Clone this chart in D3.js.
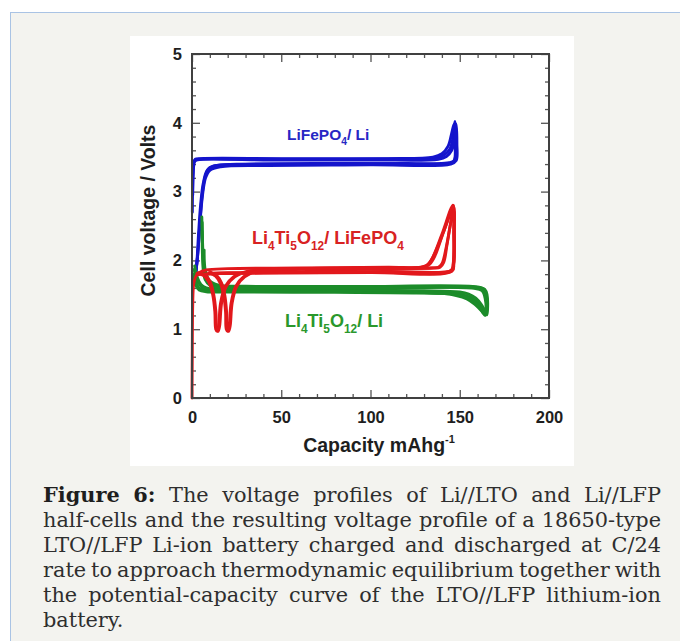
<!DOCTYPE html>
<html><head><meta charset="utf-8">
<script src="https://cdn.jsdelivr.net/npm/d3@7"></script>
<style>body{margin:0;background:#fff}</style>
</head><body>
<svg id="c" width="680" height="641"></svg>
<script>
// ---------- DATA ----------
const xMajorTicks = [0, 50, 100, 150, 200];
const xMinorTicks = [10,20,30,40,60,70,80,90,110,120,130,140,160,170,180,190];
const yMajorTicks = [0, 1, 2, 3, 4, 5];
const yMinorTicks = [0.2,0.4,0.6,0.8,1.2,1.4,1.6,1.8,2.2,2.4,2.6,2.8,3.2,3.4,3.6,3.8,4.2,4.4,4.6,4.8];

// LiFePO4 / Li half-cell cycles [capacity mAh/g, volts]
const lfpLiCycle1 = [[0.4,2.95],[0.9,3.36],[1.6,3.45],[4,3.47],[30,3.47],[80,3.47],[120,3.48],[136,3.49],[141,3.53],[144.5,3.62],[146.3,3.8],[147.3,4.02],[147.9,3.8],[147.6,3.5],[146,3.42],[120,3.41],[60,3.40],[20,3.39],[12,3.37],[8.5,3.31],[6.3,3.12],[4.8,2.8],[3.7,2.4],[2.8,2.0],[2,1.78]];
const lfpLiCycle2 = [[0.3,3.1],[0.8,3.41],[1.8,3.47],[5,3.48],[50,3.48],[110,3.48],[135,3.5],[140,3.55],[143.5,3.66],[145.5,3.85],[146.8,3.98],[147.4,3.7],[146.8,3.45],[144,3.42],[90,3.41],[30,3.40],[14,3.38],[9.5,3.34],[7.2,3.2],[5.5,2.9],[4.2,2.45],[3.1,2.05],[2.3,1.85]];
const lfpLiCycle3 = [[0.2,2.7],[0.6,3.25],[1.3,3.43],[3,3.46],[40,3.46],[100,3.46],[138,3.47],[142.5,3.51],[145.5,3.6],[147,3.75],[148,3.98],[148.4,3.7],[148,3.45],[145,3.40],[100,3.39],[40,3.38],[16,3.36],[10,3.31],[7.6,3.2],[5.9,2.95],[4.5,2.55],[3.4,2.15],[2.4,1.88],[1.6,1.72]];

// Li4Ti5O12 / Li half-cell cycles
const ltoLiCycle1 = [[1.2,1.87],[2.5,1.73],[4.6,1.64],[7,1.59],[10,1.57],[20,1.56],[60,1.55],[110,1.54],[140,1.52],[148,1.49],[154,1.44],[158.5,1.36],[162,1.27],[164.2,1.2],[164.9,1.3],[164.6,1.46],[163.3,1.56],[160,1.6],[120,1.6],[60,1.605],[25,1.61],[14,1.63],[9,1.7],[7,1.82],[6.2,2.0],[5.8,2.3],[5.5,2.63]];
const ltoLiCycle2 = [[1.0,1.8],[2.2,1.68],[4,1.6],[7,1.57],[12,1.56],[60,1.56],[120,1.55],[145,1.53],[152,1.5],[157,1.45],[160.5,1.37],[163,1.27],[164.6,1.22],[165.2,1.35],[164.8,1.5],[163.5,1.58],[159,1.61],[100,1.61],[40,1.615],[18,1.62],[11,1.66],[8,1.78],[6.6,1.95],[6,2.2],[5.7,2.55]];
const ltoLiCycle3 = [[1.5,1.92],[3,1.75],[5,1.65],[8,1.6],[14,1.58],[80,1.57],[130,1.56],[150,1.54],[155,1.51],[159,1.45],[162,1.36],[164,1.27],[165.2,1.21],[165.6,1.3],[165.3,1.5],[164,1.58],[160,1.615],[90,1.62],[30,1.625],[15,1.64],[10,1.7],[7.5,1.85],[6.8,2.15]];
const ltoLiCycle4 = [[0.8,1.75],[2,1.64],[4,1.57],[8,1.545],[20,1.54],[80,1.535],[130,1.525],[146,1.51],[153,1.47],[158,1.4],[161.5,1.3],[163.6,1.23],[164.4,1.26],[164.2,1.45],[162.5,1.56],[158,1.595],[100,1.6],[40,1.6],[16,1.61],[10,1.64],[7.4,1.72],[6.3,1.86],[5.9,2.05],[5.6,2.42]];

// Li4Ti5O12 / LiFePO4 full cell cycles
const ltoLfpCycle0 = [[0,0],[0.15,0.6],[0.4,1.35],[0.9,1.65],[2,1.76],[4,1.82],[8,1.86],[20,1.88],[60,1.89],[110,1.9],[129,1.9],[132,1.93],[135,2.05],[140,2.35],[146.3,2.8]];
const ltoLfpCycle1 = [[2.8,1.81],[6.5,1.78],[9.5,1.68],[11.6,1.5],[12.8,1.25],[13.3,1.0],[14.1,0.97],[14.9,1.05],[16,1.38],[18.6,1.62],[23.2,1.76],[30.7,1.84],[45,1.87],[90,1.89],[128,1.9],[131.5,1.93],[134,2.0],[140,2.38],[146.2,2.8],[146.6,2.4],[146.3,1.95],[145,1.85],[100,1.83],[40,1.82],[15,1.81],[6,1.8],[3,1.79]];
const ltoLfpCycle2 = [[3.5,1.82],[7.2,1.79],[10.2,1.69],[12.2,1.5],[13.4,1.25],[13.9,1.0],[14.7,0.97],[15.5,1.05],[16.6,1.38],[19.2,1.62],[24,1.76],[32,1.84],[50,1.875],[100,1.89],[130,1.9],[133,1.94],[136,2.06],[141,2.42],[146.5,2.78],[146.9,2.4],[146.6,1.95],[145.5,1.84],[100,1.825],[40,1.815],[15,1.81],[7,1.8],[3.5,1.8]];
const ltoLfpCycle3 = [[9.5,1.82],[13.2,1.77],[16,1.66],[17.8,1.48],[18.8,1.25],[19.2,1.0],[20,0.97],[20.8,1.05],[21.9,1.38],[24.4,1.62],[28.8,1.76],[36.3,1.84],[50,1.87],[100,1.88],[134,1.89],[138,1.9],[140,1.95],[142.5,2.2],[144.6,2.5],[146.4,2.76],[146.8,2.4],[146.5,1.95],[145.5,1.86],[110,1.84],[50,1.83],[20,1.82],[11,1.81]];
const ltoLfpCycle4 = [[10.3,1.83],[13.9,1.78],[16.6,1.67],[18.4,1.49],[19.4,1.25],[19.8,1.0],[20.6,0.97],[21.4,1.05],[22.5,1.38],[25,1.62],[29.5,1.76],[37,1.845],[55,1.875],[100,1.885],[135,1.89],[139,1.9],[141,1.97],[143,2.25],[145,2.55],[146.6,2.72],[147,2.4],[146.7,1.95],[145.8,1.85],[110,1.835],[50,1.825],[20,1.815],[11.5,1.815]];

const seriesNames = ["LiFePO4 / Li", "Li4Ti5O12 / Li", "Li4Ti5O12 / LiFePO4"];
const seriesColors = ["#1414cc", "#1c8c2a", "#e2181c"];
const seriesCycles = [
  [lfpLiCycle1, lfpLiCycle2, lfpLiCycle3],
  [ltoLiCycle1, ltoLiCycle2, ltoLiCycle3, ltoLiCycle4],
  [ltoLfpCycle0, ltoLfpCycle1, ltoLfpCycle2, ltoLfpCycle3, ltoLfpCycle4]
];

// series labels: [text, isSubscript]
const labelLfpLi = [["LiFePO",0],["4",1],["/ Li",0]];
const labelLtoLfp = [["Li",0],["4",1],["Ti",0],["5",1],["O",0],["12",1],["/ LiFePO",0],["4",1]];
const labelLtoLi = [["Li",0],["4",1],["Ti",0],["5",1],["O",0],["12",1],["/ Li",0]];

const xTitle = "Capacity mAhg";
const xTitleSup = "-1";
const yTitle = "Cell voltage / Volts";

const captionLines = [
  ["Figure","6:","The","voltage","profiles","of","Li//LTO","and","Li//LFP"],
  ["half-cells","and","the","resulting","voltage","profile","of","a","18650-type"],
  ["LTO//LFP","Li-ion","battery","charged","and","discharged","at","C/24"],
  ["rate","to","approach","thermodynamic","equilibrium","together","with"],
  ["the","potential-capacity","curve","of","the","LTO//LFP","lithium-ion"],
  ["battery."]
];

// ---------- DRAW ----------
const svg = d3.select("#c");
const sans = "'Liberation Sans', Arial, Helvetica, sans-serif";

// panel background
svg.append("rect").attr("x",10.5).attr("y",12.5).attr("width",700).attr("height",700)
  .attr("fill","#f3f3ef").attr("stroke","#a9c3e4").attr("stroke-width",1);
svg.append("rect").attr("x",130).attr("y",36).attr("width",444).attr("height",430).attr("fill","#fff");

const x = d3.scaleLinear().domain([0,200]).range([192,549]);
const y = d3.scaleLinear().domain([0,5]).range([398,54]);

function styleAxis(g, labels){
  g.select(".domain").remove();
  g.selectAll(".tick line").attr("stroke","#555").attr("stroke-width",1.3);
  g.selectAll(".tick text").attr("font-family",sans).attr("font-weight","bold")
    .attr("font-size",labels?16.5:0).attr("fill","#1e1e1e");
}
const fmt = d3.format("d");
svg.append("g").attr("transform","translate(0,398)")
  .call(d3.axisBottom(x).tickValues(xMajorTicks).tickSize(-8).tickPadding(13).tickFormat(fmt))
  .call(g=>styleAxis(g,true));
svg.append("g").attr("transform","translate(0,398)")
  .call(d3.axisBottom(x).tickValues(xMinorTicks).tickSize(-4).tickFormat(""))
  .call(g=>styleAxis(g,false));
svg.append("g").attr("transform","translate(0,54)")
  .call(d3.axisTop(x).tickValues(xMajorTicks).tickSize(-8).tickFormat(""))
  .call(g=>styleAxis(g,false));
svg.append("g").attr("transform","translate(0,54)")
  .call(d3.axisTop(x).tickValues(xMinorTicks).tickSize(-4).tickFormat(""))
  .call(g=>styleAxis(g,false));
svg.append("g").attr("transform","translate(192,0)")
  .call(d3.axisLeft(y).tickValues(yMajorTicks).tickSize(-8).tickPadding(10).tickFormat(fmt))
  .call(g=>styleAxis(g,true));
svg.append("g").attr("transform","translate(192,0)")
  .call(d3.axisLeft(y).tickValues(yMinorTicks).tickSize(-4).tickFormat(""))
  .call(g=>styleAxis(g,false));
svg.append("g").attr("transform","translate(549,0)")
  .call(d3.axisRight(y).tickValues(yMajorTicks).tickSize(-8).tickFormat(""))
  .call(g=>styleAxis(g,false));
svg.append("g").attr("transform","translate(549,0)")
  .call(d3.axisRight(y).tickValues(yMinorTicks).tickSize(-4).tickFormat(""))
  .call(g=>styleAxis(g,false));

// curves
const line = d3.line().x(d=>x(d[0])).y(d=>y(d[1])).curve(d3.curveCatmullRom.alpha(0.5));
[0,1,2].forEach(si=>{
  svg.append("g").selectAll("path").data(seriesCycles[si]).join("path")
    .attr("d",line).attr("fill","none").attr("stroke",seriesColors[si])
    .attr("stroke-width",2.9).attr("stroke-linejoin","round").attr("stroke-linecap","round");
});

// frame
svg.append("rect").attr("x",x(0)).attr("y",y(5)).attr("width",x(200)-x(0)).attr("height",y(0)-y(5))
  .attr("fill","none").attr("stroke","#404040").attr("stroke-width",2);

// series labels
function drawLabel(parts, px, py, size, color){
  const t = svg.append("text").attr("x",px).attr("y",py).attr("font-family",sans)
    .attr("font-weight","bold").attr("font-size",size).attr("fill",color);
  let sub = false;
  parts.forEach(([s,isSub])=>{
    const sp = t.append("tspan").text(s);
    if (isSub && !sub){ sp.attr("dy", size*0.34).attr("font-size",size*0.66); sub=true; }
    else if (isSub && sub){ sp.attr("font-size",size*0.66); }
    else if (!isSub && sub){ sp.attr("dy", -size*0.34); sub=false; }
  });
}
drawLabel(labelLfpLi, 287, 140, 15.5, "#2727c4");
drawLabel(labelLtoLfp, 252, 244, 18, "#d82222");
drawLabel(labelLtoLi, 285, 327, 18, "#2a982c");

// axis titles
const xt = svg.append("text").attr("x",379).attr("y",451.5).attr("text-anchor","middle")
  .attr("font-family",sans).attr("font-weight","bold").attr("font-size",19.5).attr("fill","#1e1e1e");
xt.append("tspan").text(xTitle);
xt.append("tspan").text(xTitleSup).attr("font-size",11).attr("dy",-9);
svg.append("text").attr("transform","translate(155,210.5) rotate(-90)").attr("text-anchor","middle")
  .attr("font-family",sans).attr("font-weight","bold").attr("font-size",19.5).attr("fill","#1e1e1e")
  .text(yTitle);

// caption (justified)
const serif = "'DejaVu Serif', 'Liberation Serif', serif";
const capLeft = 43, capRight = 661, capW = capRight - capLeft;
let fs = 21;
const meas = svg.append("g");
function wordWidth(w, bold, size){
  const t = meas.append("text").attr("font-family",serif).attr("font-size",size)
    .attr("font-weight",bold?"bold":"normal").text(w);
  const wd = t.node().getComputedTextLength(); t.remove(); return wd;
}
let maxNat = 0;
captionLines.forEach((ln,li)=>{
  let s = 0; ln.forEach((w,wi)=>{ s += wordWidth(w, li===0&&wi<2, fs); });
  s += (ln.length-1)*5;
  if (li<5) maxNat = Math.max(maxNat, s);
});
if (maxNat > capW) fs = fs*capW/maxNat;
captionLines.forEach((ln,li)=>{
  const by = 502 + li*25;
  const widths = ln.map((w,wi)=>wordWidth(w, li===0&&wi<2, fs));
  const sum = d3.sum(widths);
  const gap = li<5 ? (capW - sum)/(ln.length-1) : fs*0.32;
  let cx = capLeft;
  ln.forEach((w,wi)=>{
    const bold = li===0&&wi<2;
    svg.append("text").attr("x",cx).attr("y",by).attr("font-family",serif).attr("font-size",fs)
      .attr("font-weight",bold?"bold":"normal").attr("fill",bold?"#1e1e1e":"#2e2e2e").text(w);
    cx += widths[wi] + gap;
  });
});
meas.remove();
</script>
</body></html>
